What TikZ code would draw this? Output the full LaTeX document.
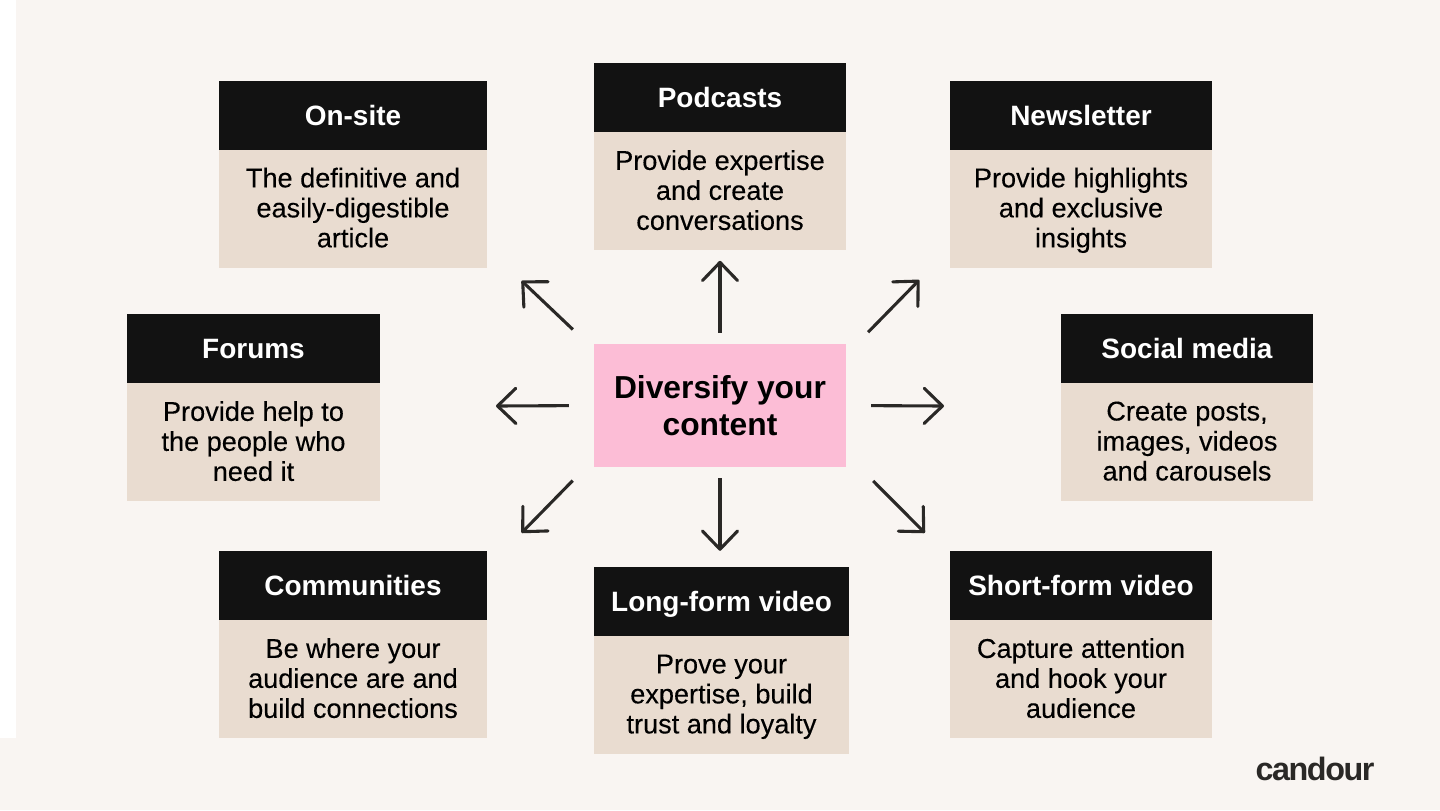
\documentclass[tikz,border=0pt]{standalone}
\usepackage{fontspec}
\setmainfont{Liberation Sans}
\newfontfamily\bodyfont{Liberation Sans}[FakeBold=0.2]
\newfontfamily\logofont{Liberation Sans}[LetterSpace=-4.5]
\usetikzlibrary{arrows.meta}
\definecolor{pagebg}{HTML}{F9F5F2}
\definecolor{headfill}{HTML}{121212}
\definecolor{bodyfill}{HTML}{E9DCD0}
\definecolor{hubfill}{HTML}{FCBDD6}
\definecolor{arrowink}{HTML}{2A2826}
\newcommand{\boxstrut}{\rule[-4.2pt]{0pt}{22.6pt}}
\begin{document}
\begin{tikzpicture}[
headbox/.style={
    rectangle,
    fill=headfill,
    text=white,
    minimum height=1.725cm,
    inner sep=0pt,
    execute at begin node=\boxstrut,
    font=\fontsize{19.9}{22}\selectfont\bfseries
},
bodybox/.style={
    rectangle,
    fill=bodyfill,
    text=black,
    align=center,
    minimum height=2.95cm,
    inner sep=0pt,
    text depth=1.4pt,
    font=\fontsize{19.3}{21.34}\selectfont\bodyfont
},
hubbox/.style={
    rectangle,
    fill=hubfill,
    text=black,
    align=center,
    inner sep=0pt,
    font=\fontsize{22.6}{26}\selectfont\bfseries
},
arrowline/.style={
    draw=arrowink,
    line width=2.2pt,
    -{Straight Barb[length=13pt,width=25pt,round=false]}
}
]

\fill[pagebg] (0,0) rectangle (36,-20.25);
\fill[white] (0,0) rectangle (0.4,-18.45);

%---------------- Centre ----------------
\node[hubbox,minimum width=6.3cm,minimum height=3.075cm] (hub) at (18,-10.1375) {Diversify your\\content};

%---------------- Top row ----------------
\node[headbox,minimum width=6.7cm] (onsite) at (8.825,-2.8875) {On-site};
\node[bodybox,minimum width=6.7cm] (onsitebody) at (8.825,-5.2125) {The definitive and\\easily-digestible\\article};

\node[headbox,minimum width=6.3cm] (podcasts) at (18,-2.4375) {Podcasts};
\node[bodybox,minimum width=6.3cm] (podcastsbody) at (18,-4.775) {Provide expertise\\and create\\conversations};

\node[headbox,minimum width=6.55cm] (newsletter) at (27.025,-2.8875) {Newsletter};
\node[bodybox,minimum width=6.55cm] (newsletterbody) at (27.025,-5.2125) {Provide highlights\\and exclusive\\insights};

%---------------- Middle row ----------------
\node[headbox,minimum width=6.325cm] (forums) at (6.3375,-8.7125) {Forums};
\node[bodybox,minimum width=6.325cm] (forumsbody) at (6.3375,-11.05) {Provide help to\\the people who\\need it};

\node[headbox,minimum width=6.3cm] (social) at (29.675,-8.7125) {Social media};
\node[bodybox,minimum width=6.3cm] (socialbody) at (29.675,-11.05) {Create posts,\\images, videos\\and carousels};

%---------------- Bottom row ----------------
\node[headbox,minimum width=6.7cm] (communities) at (8.825,-14.6375) {Communities};
\node[bodybox,minimum width=6.7cm] (communitiesbody) at (8.825,-16.975) {Be where your\\audience are and\\build connections};

\node[headbox,minimum width=6.375cm] (longform) at (18.0375,-15.0375) {Long-form video};
\node[bodybox,minimum width=6.375cm] (longformbody) at (18.0375,-17.375) {Prove your\\expertise, build\\trust and loyalty};

\node[headbox,minimum width=6.55cm] (shortform) at (27.025,-14.6375) {Short-form video};
\node[bodybox,minimum width=6.55cm] (shortformbody) at (27.025,-16.975) {Capture attention\\and hook your\\audience};

%---------------- Logo ----------------
\node[inner sep=0pt,text=arrowink,font=\fontsize{23}{26}\selectfont\logofont\bfseries] (logo) at (32.875,-19.23) {candour};

%---------------- Arrow tips ----------------
\coordinate (tiponsite) at (13.04,-7.02);
\coordinate (tippodcasts) at (18,-6.52);
\coordinate (tipnewsletter) at (22.98,-7.0);
\coordinate (tipforums) at (12.4,-10.15);
\coordinate (tipsocial) at (23.6,-10.15);
\coordinate (tipcommunities) at (13.04,-13.32);
\coordinate (tiplongform) at (18,-13.77);
\coordinate (tipshortform) at (23.12,-13.32);

\draw[arrowline,shorten <=0.72cm] (hub.156.6) -- (tiponsite);
\draw[arrowline,shorten <=0.27cm] (hub.north) -- (tippodcasts);
\draw[arrowline,shorten <=0.78cm] (hub.22) -- (tipnewsletter);
\draw[arrowline,shorten <=0.62cm] (hub.west) -- (tipforums);
\draw[arrowline,shorten <=0.62cm] (hub.east) -- (tipsocial);
\draw[arrowline,shorten <=0.75cm] (hub.203.2) -- (tipcommunities);
\draw[arrowline,shorten <=0.27cm] (hub.south) -- (tiplongform);
\draw[arrowline,shorten <=0.95cm] (hub.339) -- (tipshortform);

\end{tikzpicture}
\end{document}
